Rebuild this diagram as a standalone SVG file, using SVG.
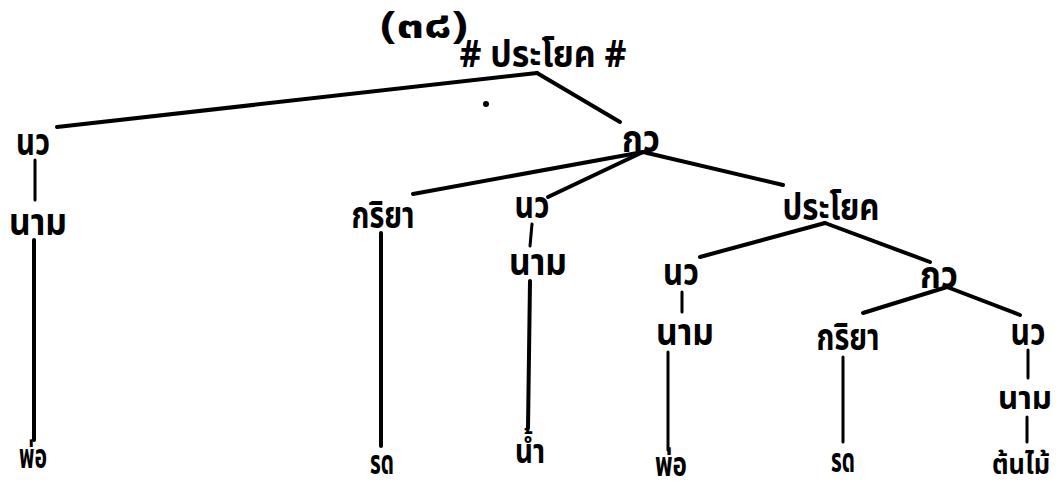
<svg xmlns="http://www.w3.org/2000/svg" width="1059" height="492" viewBox="0 0 1059 492">
<style>
text{font-family:"Noto Sans Thai","Noto Sans","DejaVu Sans",sans-serif;font-weight:bold;font-size:38px;fill:#000;text-anchor:middle}
.e{stroke:#000;stroke-width:4;stroke-linecap:round;fill:none}
.t{stroke-width:3}
.s{font-size:32px}
.b{font-size:34px}
.r{font-size:28px}
</style>
<rect width="1059" height="492" fill="#fff"/>
<text id="title" x="424" y="38" font-size="48" textLength="88" lengthAdjust="spacingAndGlyphs">(๓๘)</text>
<g id="connectors">
<path class="e" d="M537 73 L57 127"/>
<path class="e" d="M537 73 L620 122"/>
<path class="e t" d="M35 160 L35 200"/>
<path class="e" d="M34 240 L34 440"/>
<path class="e" d="M643 152 L413 194"/>
<path class="e" d="M643 152 L548 197"/>
<path class="e" d="M643 152 L783 185"/>
<path class="e" d="M381 233 L381 446"/>
<path class="e t" d="M532 224 L530 246"/>
<path class="e" d="M530 281 L528 428"/>
<path class="e" d="M825 223 L700 257"/>
<path class="e" d="M825 223 L930 262"/>
<path class="e t" d="M682 292 L682 312"/>
<path class="e t" d="M668 352 L668 450"/>
<path class="e" d="M947 287 L863 313"/>
<path class="e" d="M947 287 L1020 315"/>
<path class="e t" d="M843 357 L843 442"/>
<path class="e t" d="M1028 350 L1028 378"/>
<path class="e t" d="M1027 417 L1027 442"/>
</g>
<circle cx="486" cy="104" r="3" fill="#000"/>
<g id="root"><text x="543" y="67" textLength="167" lengthAdjust="spacingAndGlyphs">#  ประโยค  #</text></g>
<g id="nw1"><text x="33" y="155" textLength="34" lengthAdjust="spacingAndGlyphs">นว</text></g>
<g id="nam1"><text x="38" y="235" textLength="58" lengthAdjust="spacingAndGlyphs">นาม</text></g>
<g id="pho1"><text class="b" x="33" y="468" textLength="28" lengthAdjust="spacingAndGlyphs">พ่อ</text></g>
<g id="kw1"><text x="641" y="152" textLength="38" lengthAdjust="spacingAndGlyphs">กว</text></g>
<g id="kriya1"><text x="383" y="228" textLength="63" lengthAdjust="spacingAndGlyphs">กริยา</text></g>
<g id="rot1"><text class="b" x="382" y="474" textLength="24" lengthAdjust="spacingAndGlyphs">รด</text></g>
<g id="nw2"><text x="532" y="218" textLength="35" lengthAdjust="spacingAndGlyphs">นว</text></g>
<g id="nam2"><text x="538" y="275" textLength="58" lengthAdjust="spacingAndGlyphs">นาม</text></g>
<g id="nam_water"><text class="b" x="530" y="463" textLength="30" lengthAdjust="spacingAndGlyphs">น้ำ</text></g>
<g id="sentence2"><text x="831" y="220" textLength="97" lengthAdjust="spacingAndGlyphs">ประโยค</text></g>
<g id="nw3"><text x="681" y="285" textLength="36" lengthAdjust="spacingAndGlyphs">นว</text></g>
<g id="nam3"><text x="685" y="345" textLength="58" lengthAdjust="spacingAndGlyphs">นาม</text></g>
<g id="pho2"><text class="b" x="671" y="476" textLength="32" lengthAdjust="spacingAndGlyphs">พ่อ</text></g>
<g id="kw2"><text x="939" y="288" textLength="38" lengthAdjust="spacingAndGlyphs">กว</text></g>
<g id="kriya2"><text x="848" y="350" textLength="63" lengthAdjust="spacingAndGlyphs">กริยา</text></g>
<g id="rot2"><text class="b" x="843" y="472" textLength="24" lengthAdjust="spacingAndGlyphs">รด</text></g>
<g id="nw4"><text x="1028" y="345" textLength="35" lengthAdjust="spacingAndGlyphs">นว</text></g>
<g id="nam4"><text class="s" x="1025" y="409" textLength="54" lengthAdjust="spacingAndGlyphs">นาม</text></g>
<g id="tree"><text class="r" x="1021" y="474" textLength="58" lengthAdjust="spacingAndGlyphs">ต้นไม้</text></g>
</svg>
